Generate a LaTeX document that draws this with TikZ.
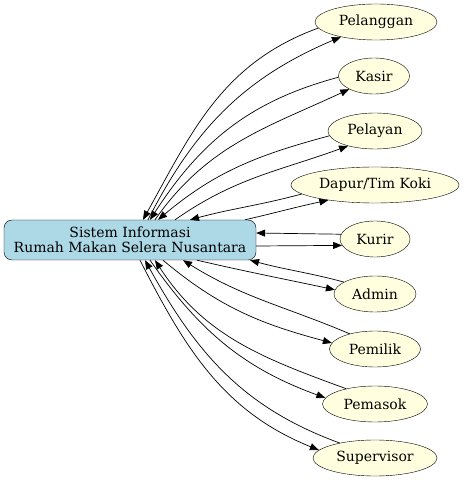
\documentclass[tikz,border=0pt]{standalone}
\usepackage{fontspec}
\setmainfont{DejaVu Serif}
\usetikzlibrary{arrows.meta,shapes.geometric}
\definecolor{SisFill}{HTML}{ADD8E6}
\definecolor{AktorFill}{HTML}{FFFFE0}

\begin{document}
\begin{tikzpicture}[x=1pt,y=1pt,
  sistem/.style={draw,rounded corners=8pt,fill=SisFill,minimum width=252pt,minimum height=40pt,align=center,inner sep=2pt,font=\fontsize{14}{15}\selectfont},
  aktor/.style={draw,ellipse,fill=AktorFill,minimum height=36pt,inner sep=0pt,font=\fontsize{14}{15}\selectfont},
  alur/.style={-{Triangle[length=9pt,width=7pt]},line width=0.7pt}
]
\useasboundingbox (0,0) rectangle (463,480);
\node[sistem] (sis) at (130,240) {Sistem Informasi\\Rumah Makan Selera Nusantara};
\node[aktor,minimum width=122pt] (pel) at (376,458) {Pelanggan};
\node[aktor,minimum width=71pt] (kas) at (374,404) {Kasir};
\node[aktor,minimum width=94pt] (ply) at (375,349) {Pelayan};
\node[aktor,minimum width=168pt] (dap) at (375,295) {Dapur/Tim Koki};
\node[aktor,minimum width=70pt] (kur) at (375,241) {Kurir};
\node[aktor,minimum width=82pt] (adm) at (375,186) {Admin};
\node[aktor,minimum width=91pt] (pmk) at (375,131) {Pemilik};
\node[aktor,minimum width=105pt] (pms) at (375,76) {Pemasok};
\node[aktor,minimum width=124pt] (sup) at (375,22) {Supervisor};

\draw[alur] ([xshift=18pt]sis.north) to[out=63,in=203] (pel.203);
\draw[alur] (pel.186) to[out=200,in=61] ([xshift=13pt]sis.north);
\draw[alur] ([xshift=25pt]sis.north) to[out=55,in=205] (kas.208);
\draw[alur] (kas.182) to[out=195,in=57] ([xshift=20pt]sis.north);
\draw[alur] ([xshift=45pt]sis.north) to[out=35,in=200] (ply.209);
\draw[alur] (ply.186) to[out=195,in=40] ([xshift=28pt]sis.north);
\draw[alur] ([xshift=115pt]sis.north) to[out=13,in=192] (dap.198);
\draw[alur] (dap.187) to[out=195,in=15] ([xshift=60pt]sis.north);
\draw[alur] ([yshift=-6pt]sis.east) -- (kur.191);
\draw[alur] (kur.172) -- ([yshift=7pt]sis.east);
\draw[alur] ([xshift=67pt]sis.south) to[out=-13,in=168] (adm.174);
\draw[alur] (adm.159) to[out=165,in=-15] ([xshift=120pt]sis.south);
\draw[alur] ([xshift=33pt]sis.south) to[out=-40,in=165] (pmk.172);
\draw[alur] (pmk.149) to[out=157,in=-32] ([xshift=53pt]sis.south);
\draw[alur] ([xshift=20pt]sis.south) to[out=-55,in=160] (pms.173);
\draw[alur] (pms.152) to[out=160,in=-57] ([xshift=25pt]sis.south);
\draw[alur] ([xshift=10pt]sis.south) to[out=-63,in=158] (sup.172);
\draw[alur] (sup.157) to[out=160,in=-61] ([xshift=15pt]sis.south);
\end{tikzpicture}
\end{document}
